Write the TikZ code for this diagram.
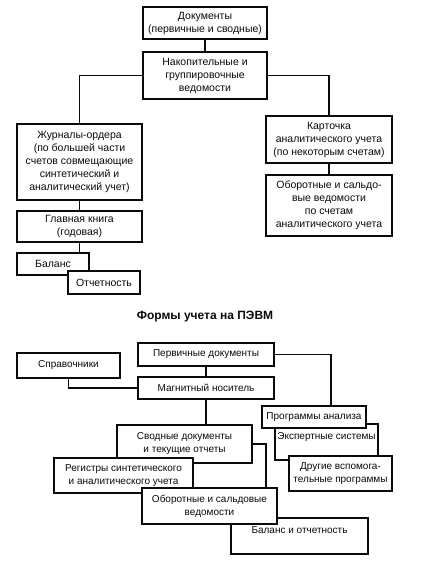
\documentclass[tikz,border=0pt]{standalone}
\usepackage{fontspec}
\setmainfont{Liberation Sans}
\usepackage{tikz}
\usetikzlibrary{calc}
\definecolor{ink}{HTML}{0A0A0A}

\begin{document}
\begin{tikzpicture}[
  x=1pt, y=-1pt,
  font=\fontsize{10.5}{13}\selectfont,
  box/.style={draw=ink, fill=white, line width=1.2pt, align=center,
    inner sep=1pt, outer sep=0pt, text=ink},
  small/.style={font=\fontsize{10}{13}\selectfont},
  toptext/.style={text depth=12pt},
  link/.style={draw=ink, line width=1.1pt},
  ttl/.style={font=\fontsize{12}{14}\selectfont\bfseries, text=ink},
]
\fill[white] (0,0) rectangle (423,563);

% ---------- manual forms ----------
\node[box, minimum width=124pt, minimum height=32pt] (doc) at (205,23)
  {Документы\\(первичные и сводные)};
\node[box, minimum width=124pt, minimum height=47pt] (nak) at (205,75.5)
  {Накопительные и\\группировочные\\ведомости};
\node[box, minimum width=125pt, minimum height=76pt] (zhur) at (79.5,162)
  {Журналы-ордера\\(по большей части\\счетов совмещающие\\синтетический и\\аналитический учет)};
\node[box, minimum width=126pt, minimum height=47pt] (kart) at (329,139.5)
  {Карточка\\аналитического учета\\(по некоторым счетам)};
\node[box, minimum width=126pt, minimum height=61pt] (obor) at (329,205.5)
  {Оборотные и сальдо-\\вые ведомости\\по счетам\\аналитического учета};
\node[box, minimum width=125pt, minimum height=31pt] (glav) at (79.5,226.5)
  {Главная книга\\(годовая)};
\node[box, minimum width=72pt, minimum height=22pt] (bal) at (53,264) {Баланс};
\node[box, minimum width=72pt, minimum height=23pt] (otch) at (104,282.5) {Отчетность};

\draw[link] (doc.south) -- (nak.north);
\draw[link] (nak.west) -| (zhur.north);
\draw[link] (nak.east) -| (kart.north);
\draw[link] (kart.south) -- (obor.north);
\draw[link] (zhur.south) -- (glav.north);
\draw[link] (glav.south) -- (glav.south |- bal.north);

% ---------- computer forms ----------
\node[ttl] (title) at (205,317) {Формы учета на ПЭВМ};

\begin{scope}[every node/.append style={small}]
\node[box, minimum width=103pt, minimum height=25pt] (sprav) at (68.5,365.5) {Справочники};
\node[box, minimum width=136pt, minimum height=23pt] (perv) at (206,354.5) {Первичные документы};
\node[box, minimum width=136pt, minimum height=22pt] (magn) at (206,388) {Магнитный носитель};

\node[box, toptext, minimum width=103pt, minimum height=36pt] (eksp) at (326.5,442) {Экспертные системы};
\node[box, minimum width=104pt, minimum height=22pt] (prog) at (314,417) {Программы анализа};
\node[box, minimum width=103pt, minimum height=35pt] (drug) at (340.5,473.5)
  {Другие вспомога-\\тельные программы};

\node[box, minimum width=135pt, minimum height=38pt] (svod) at (184.5,444)
  {Сводные документы\\и текущие отчеты};
\node[box, minimum width=139pt, minimum height=35pt] (reg) at (123.5,475.5)
  {Регистры синтетического\\и аналитического учета};
\node[box, toptext, minimum width=137pt, minimum height=36pt] (bal2) at (299.5,536)
  {Баланс и отчетность};
\node[box, minimum width=135pt, minimum height=36pt] (obor2) at (209.5,506)
  {Оборотные и сальдовые\\ведомости};
\end{scope}

\draw[link] (perv.south) -- (magn.north);
\draw[link] (sprav.south) |- (magn.west);
\draw[link] (perv.east) -| ($(prog.north)+(17,0)$);
\draw[link] (magn.south) -- (magn.south |- svod.north);
\draw[link] (svod.east) -| ($(obor2.north east)+(-11,0)$);

\end{tikzpicture}
\end{document}
